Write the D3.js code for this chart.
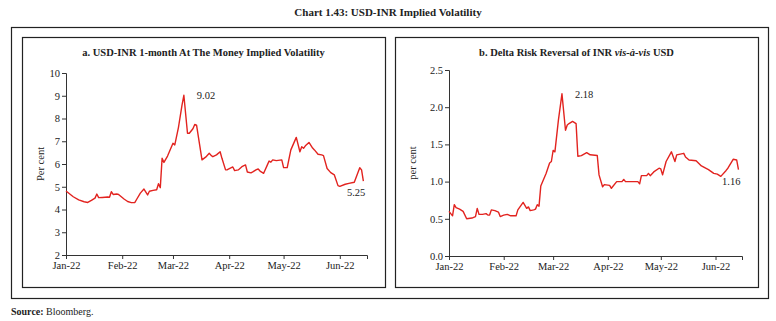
<!DOCTYPE html>
<html>
<head>
<meta charset="utf-8">
<script src="https://cdn.jsdelivr.net/npm/d3@7"></script>
<style>
  body { margin: 0; background: #fff; }
  text { font-family: "Liberation Serif", "DejaVu Serif", serif; fill: #222; }
</style>
</head>
<body>
<svg id="chart" width="776" height="321"></svg>
<script>
// panel a: USD-INR 1-month ATM implied volatility (per cent)
var atmDates = ["2022-01-01","2022-01-05","2022-01-08","2022-01-11","2022-01-13","2022-01-15","2022-01-17","2022-01-18","2022-01-19","2022-01-21",
  "2022-01-24","2022-01-25","2022-01-26","2022-01-27","2022-01-29","2022-01-30","2022-02-02","2022-02-04","2022-02-06","2022-02-08",
  "2022-02-09","2022-02-11","2022-02-13","2022-02-15","2022-02-16","2022-02-18","2022-02-20","2022-02-21","2022-02-22","2022-02-23",
  "2022-02-24","2022-02-26","2022-02-27","2022-03-01","2022-03-02","2022-03-04","2022-03-06","2022-03-07","2022-03-09","2022-03-10",
  "2022-03-12","2022-03-13","2022-03-14","2022-03-17","2022-03-19","2022-03-21","2022-03-22","2022-03-23","2022-03-25","2022-03-27",
  "2022-03-28","2022-03-30","2022-03-31","2022-04-03","2022-04-04","2022-04-06","2022-04-08","2022-04-10","2022-04-11","2022-04-13",
  "2022-04-14","2022-04-16","2022-04-17","2022-04-18","2022-04-20","2022-04-22","2022-04-23","2022-04-24","2022-04-25","2022-04-27",
  "2022-04-30","2022-05-01","2022-05-03","2022-05-05","2022-05-08","2022-05-10","2022-05-11","2022-05-12","2022-05-13","2022-05-15",
  "2022-05-17","2022-05-18","2022-05-20","2022-05-22","2022-05-23","2022-05-25","2022-05-27","2022-05-29","2022-05-31","2022-06-01",
  "2022-06-04","2022-06-06","2022-06-09","2022-06-12","2022-06-13","2022-06-14"];
var atmValues = [4.81,4.56,4.42,4.34,4.31,4.40,4.50,4.68,4.52,4.53,
  4.55,4.54,4.78,4.66,4.68,4.66,4.46,4.35,4.30,4.31,
  4.45,4.72,4.90,4.64,4.80,4.84,4.87,5.13,4.96,6.25,
  6.07,6.35,6.54,6.91,6.84,7.60,8.60,9.02,7.35,7.35,
  7.55,7.74,7.71,6.18,6.30,6.47,6.38,6.32,6.40,6.54,
  6.25,5.74,5.75,5.87,5.71,5.74,5.88,5.96,5.65,5.61,
  5.65,5.75,5.78,5.69,5.59,5.95,6.13,6.08,6.18,6.15,
  6.18,5.84,5.84,6.62,7.17,6.54,6.76,6.69,6.80,6.95,
  6.70,6.62,6.43,6.40,6.37,5.80,5.62,5.52,5.05,5.02,
  5.11,5.15,5.20,5.84,5.74,5.25];

// panel b: 25-delta risk reversal (per cent)
var rrDates = ["2022-01-01","2022-01-03","2022-01-04","2022-01-05","2022-01-07","2022-01-09","2022-01-11","2022-01-14","2022-01-16","2022-01-17",
  "2022-01-18","2022-01-20","2022-01-22","2022-01-23","2022-01-24","2022-01-25","2022-01-27","2022-01-29","2022-01-30","2022-02-01",
  "2022-02-03","2022-02-05","2022-02-08","2022-02-09","2022-02-12","2022-02-14","2022-02-15","2022-02-16","2022-02-18","2022-02-19",
  "2022-02-20","2022-02-21","2022-02-22","2022-02-25","2022-02-27","2022-02-28","2022-03-01","2022-03-02","2022-03-04","2022-03-06",
  "2022-03-08","2022-03-09","2022-03-10","2022-03-12","2022-03-14","2022-03-15","2022-03-17","2022-03-20","2022-03-22","2022-03-26",
  "2022-03-27","2022-03-29","2022-03-30","2022-04-02","2022-04-03","2022-04-06","2022-04-09","2022-04-10","2022-04-11","2022-04-18",
  "2022-04-19","2022-04-20","2022-04-23","2022-04-24","2022-04-25","2022-04-27","2022-04-30","2022-05-01","2022-05-02","2022-05-04",
  "2022-05-07","2022-05-09","2022-05-10","2022-05-14","2022-05-15","2022-05-17","2022-05-21","2022-05-24","2022-05-28","2022-05-31",
  "2022-06-02","2022-06-04","2022-06-07","2022-06-08","2022-06-11","2022-06-13","2022-06-14"];
var rrValues = [0.60,0.54,0.69,0.65,0.63,0.60,0.50,0.51,0.53,0.64,
  0.56,0.56,0.57,0.55,0.55,0.62,0.61,0.59,0.53,0.55,
  0.56,0.54,0.54,0.62,0.72,0.64,0.66,0.61,0.62,0.63,
  0.69,0.67,0.94,1.11,1.25,1.27,1.42,1.40,1.83,2.18,
  1.69,1.76,1.78,1.81,1.78,1.34,1.35,1.39,1.36,1.35,
  1.09,0.93,0.96,0.95,0.91,1.00,1.00,1.03,1.00,1.00,
  0.97,1.08,1.08,1.11,1.08,1.13,1.18,1.17,1.09,1.27,
  1.40,1.27,1.36,1.38,1.33,1.29,1.28,1.21,1.16,1.11,
  1.10,1.07,1.15,1.18,1.30,1.29,1.16];

var monthTicks = ["2022-01-01","2022-02-01","2022-03-01","2022-04-01","2022-05-01","2022-06-01"];
var atmTicks = [2,3,4,5,6,7,8,9,10];
var rrTicks = [0,0.5,1,1.5,2,2.5];

var parse = d3.timeParse("%Y-%m-%d");
var red = "#e2231f";
var svg = d3.select("#chart");

svg.append("rect").attr("width", 776).attr("height", 321).attr("fill", "#fff");

svg.append("text").attr("x", 388).attr("y", 16).attr("text-anchor", "middle")
  .style("font-size", "11px").style("font-weight", "bold")
  .text("Chart 1.43: USD-INR Implied Volatility");

// frames
svg.append("rect").attr("x", 11.5).attr("y", 27.5).attr("width", 757).attr("height", 271)
  .attr("fill", "none").attr("stroke", "#222").attr("stroke-width", 1.2);

function panel(opts) {
  var g = svg.append("g");
  g.append("rect").attr("x", opts.box[0] + 0.5).attr("y", 37.5)
    .attr("width", opts.box[1] - opts.box[0]).attr("height", 250)
    .attr("fill", "none").attr("stroke", "#222").attr("stroke-width", 1.2);

  var title = g.append("text").attr("x", (opts.box[0] + opts.box[1]) / 2).attr("y", 56)
    .attr("text-anchor", "middle").style("font-size", "10.5px").style("font-weight", "bold");
  opts.title.forEach(function(p) {
    title.append("tspan").style("font-style", p[1] ? "italic" : "normal").text(p[0]);
  });

  var x = d3.scaleTime().domain([parse("2022-01-01"), parse("2022-06-16")]).range(opts.xr);
  var y = d3.scaleLinear().domain(opts.yd).range([opts.y0, opts.y1]);

  var data = opts.dates.map(function(d, i) { return { date: parse(d), v: opts.values[i] }; });

  var xAxis = g.append("g").attr("transform", "translate(0," + opts.y0 + ")")
    .call(d3.axisBottom(x).tickValues(monthTicks.map(parse)).tickFormat(d3.timeFormat("%b-%y"))
      .tickSizeOuter(0).tickSize(4).tickPadding(3));
  var yAxis = g.append("g").attr("transform", "translate(" + opts.xr[0] + ",0)")
    .call(d3.axisLeft(y).tickValues(opts.yticks).tickFormat(opts.fmt).tickSizeOuter(0).tickSize(4).tickPadding(2));
  [xAxis, yAxis].forEach(function(a) {
    a.selectAll("path, line").attr("stroke", "#333");
    a.selectAll("text").style("font-size", "10.5px").style("font-family", "Liberation Serif").attr("fill", "#222");
  });

  g.append("text").attr("transform", "translate(" + opts.ylabX + "," + ((opts.y0 + opts.y1) / 2) + ") rotate(-90)")
    .attr("text-anchor", "middle").style("font-size", "10.5px").text(opts.ylab);

  g.append("path").datum(data)
    .attr("fill", "none").attr("stroke", red).attr("stroke-width", 1.4).attr("stroke-linejoin", "round")
    .attr("d", d3.line().x(function(d) { return x(d.date); }).y(function(d) { return y(d.v); }));

  // labels for peak and last value
  var peak = data.reduce(function(a, b) { return b.v > a.v ? b : a; });
  var last = data[data.length - 1];
  g.append("text").attr("x", x(peak.date) + 13).attr("y", y(peak.v) + 4)
    .style("font-size", "10.5px").text(d3.format(".2f")(peak.v));
  g.append("text").attr("x", x(last.date) + 2).attr("y", y(last.v) + opts.lastDy)
    .attr("text-anchor", "end").style("font-size", "10.5px").text(d3.format(".2f")(last.v));
}

panel({
  box: [22, 385], xr: [66, 367], y0: 255, y1: 73, yd: [2, 10], yticks: atmTicks, fmt: d3.format("d"),
  dates: atmDates, values: atmValues, ylab: "Per cent", ylabX: 44, lastDy: 15,
  title: [["a. USD-INR 1-month At The Money Implied Volatility", false]]
});
panel({
  box: [395, 758], xr: [449, 742], y0: 256, y1: 70, yd: [0, 2.5], yticks: rrTicks, fmt: d3.format(".1f"),
  dates: rrDates, values: rrValues, ylab: "per cent", ylabX: 416, lastDy: 15,
  title: [["b. Delta Risk Reversal of INR ", false], ["vis-à-vis", true], [" USD", false]]
});

var src = svg.append("text").attr("x", 11).attr("y", 315).style("font-size", "10px");
src.append("tspan").style("font-weight", "bold").text("Source:");
src.append("tspan").text(" Bloomberg.");
</script>
</body>
</html>
